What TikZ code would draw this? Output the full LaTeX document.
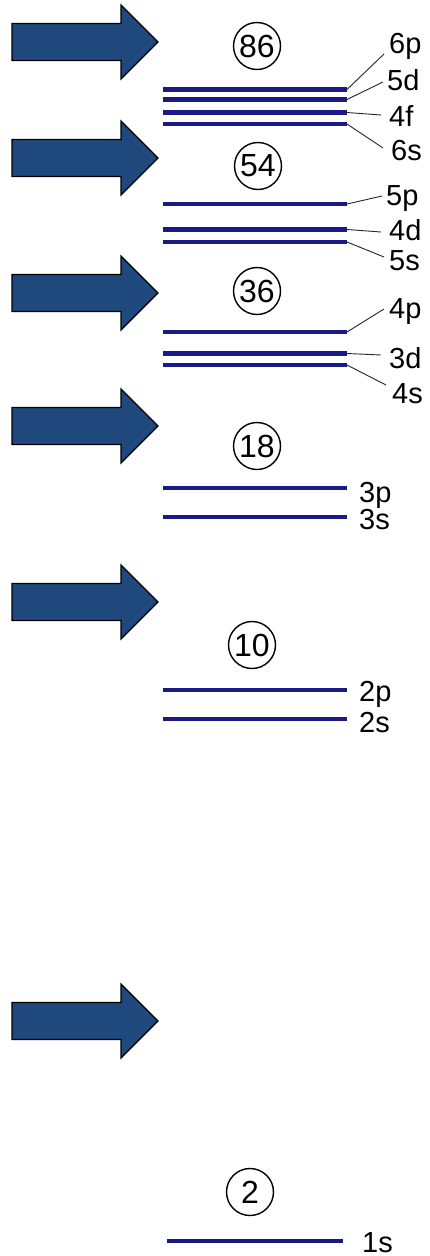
\documentclass[tikz,border=0pt]{standalone}
\usepackage{fontspec}
\setmainfont{Liberation Sans}
\definecolor{arrowblue}{RGB}{31,73,125}
\definecolor{levelblue}{RGB}{26,26,135}
\tikzset{
  bigarrow/.style={fill=arrowblue, draw=black, line width=1.2pt, line join=miter},
  level/.style={draw=levelblue, line width=4.2pt},
  leader/.style={draw=black!85, line width=0.9pt},
  shellnum/.style={circle, draw=black, line width=1.4pt, minimum size=47pt, inner sep=0pt, font=\fontsize{32}{32}\selectfont},
  orb/.style={font=\fontsize{29}{29}\selectfont, inner sep=0pt, anchor=base west},
}
\begin{document}
\begin{tikzpicture}[x=1pt,y=-1pt]
\useasboundingbox (0,0) rectangle (430,1256);
\fill[white] (0,0) rectangle (430,1256);
% arrows
\foreach \y in {42,158,293,426,602,1021} {
  \draw[bigarrow] (12,\y-18.5) -- (121,\y-18.5) -- (121,\y-37) -- (158,\y) -- (121,\y+37) -- (121,\y+18.5) -- (12,\y+18.5) -- cycle;
}
% shell numbers
\node[shellnum] (c86) at (257,46) {86};
\node[shellnum] (c54) at (258,166) {54};
\node[shellnum] (c36) at (257,291) {36};
\node[shellnum] (c18) at (257,446) {18};
\node[shellnum] (c10) at (252,645) {10};
\node[shellnum] (c2) at (250,1192) {2};
% levels: name / y
\foreach \n/\y in {6p/89.5, 5d/99.5, 4f/112.5, 6s/124, 5p/204, 4d/229.5, 5s/242, 4p/332, 3d/353.5, 4s/365, 3p/488, 3s/517, 2p/690, 2s/719} {
  \coordinate (L\n) at (163,\y);
  \coordinate (R\n) at (347,\y);
  \draw[level] (L\n) -- (R\n);
}
\coordinate (L1s) at (167,1241);
\coordinate (R1s) at (343,1241);
\draw[level] (L1s) -- (R1s);
% labels
\node[orb] (t6p) at (389,53) {6p};
\node[orb] (t5d) at (387,90) {5d};
\node[orb] (t4f) at (389,126) {4f};
\node[orb] (t6s) at (391,160) {6s};
\node[orb] (t5p) at (386,205) {5p};
\node[orb] (t4d) at (389,240) {4d};
\node[orb] (t5s) at (389,270) {5s};
\node[orb] (t4p) at (389,318) {4p};
\node[orb] (t3d) at (389,368) {3d};
\node[orb] (t4s) at (392,403) {4s};
\node[orb] (t3p) at (359,502) {3p};
\node[orb] (t3s) at (359,529) {3s};
\node[orb] (t2p) at (359,701) {2p};
\node[orb] (t2s) at (359,732) {2s};
\node[orb] (t1s) at (362,1252) {1s};
% leader ends
\coordinate (e6p) at (384,54);
\coordinate (e5d) at (383,82);
\coordinate (e4f) at (381,115);
\coordinate (e6s) at (383,148);
\coordinate (e5p) at (382,196);
\coordinate (e4d) at (381,232);
\coordinate (e5s) at (384,257);
\coordinate (e4p) at (384,309);
\coordinate (e3d) at (381,355);
\coordinate (e4s) at (386,385);
\foreach \n in {6p,5d,4f,6s,5p,4d,5s,4p,3d,4s} {
  \draw[leader] (R\n) -- (e\n);
}
\end{tikzpicture}
\end{document}
